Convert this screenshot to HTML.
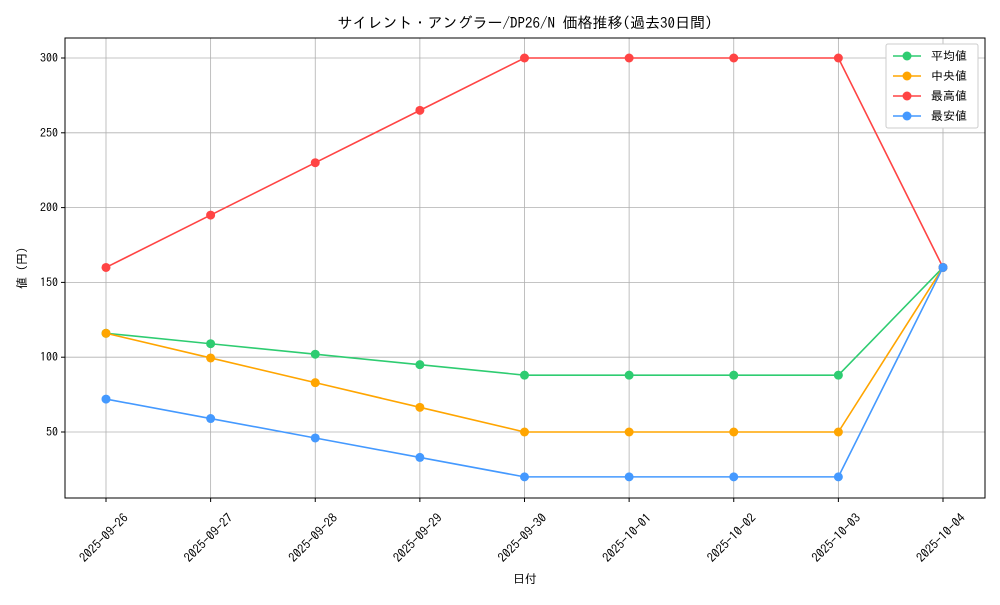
<!DOCTYPE html>
<html><head><meta charset="utf-8"><style>
body{margin:0;background:#fff}
svg text{font-family:"IPAGothic","Liberation Sans","Noto Sans CJK JP",sans-serif;fill:#000}
</style></head><body>
<svg id="chart" width="1000" height="600" xmlns="http://www.w3.org/2000/svg">
<rect width="1000" height="600" fill="#fff"/>
<text x="525" y="28" font-size="15" text-anchor="middle">サイレント・アングラー/DP26/N 価格推移(過去30日間)</text>
<g id="grid"></g><g id="axes"></g><g id="series"></g>
<text x="525" y="583" font-size="12" text-anchor="middle">日付</text>
<text x="26" y="268" font-size="12" text-anchor="middle" transform="rotate(-90 26 268)">値 (円)</text>
<g id="legend"></g>
</svg>
<script>
const dates=["2025-09-26","2025-09-27","2025-09-28","2025-09-29","2025-09-30","2025-10-01","2025-10-02","2025-10-03","2025-10-04"];
const avgVals=[116,109,102,95,88,88,88,88,160];
const medVals=[116,99.5,83,66.5,50,50,50,50,160];
const maxVals=[160,195,230,265,300,300,300,300,160];
const minVals=[72,59,46,33,20,20,20,20,160];
const yTicks=[50,100,150,200,250,300];
const seriesNames=["平均値","中央値","最高値","最安値"];
const NS="http://www.w3.org/2000/svg";
const L=65,R=985,T=38,B=498;
const x=i=>106+i*(943-106)/(dates.length-1);
const y=v=>432-(v-50)*(374/250);
function mk(tag,attrs,parent){const e=document.createElementNS(NS,tag);for(const k in attrs)e.setAttribute(k,attrs[k]);parent.appendChild(e);return e;}
const grid=document.getElementById('grid'),axes=document.getElementById('axes'),ser=document.getElementById('series'),leg=document.getElementById('legend');
dates.forEach((d,i)=>{
 const g=mk('line',{x1:x(i),x2:x(i),y1:T,y2:B,stroke:'#b0b0b0','stroke-width':0.8},grid);
 
 
 mk('line',{x1:x(i),x2:x(i),y1:B,y2:B+4,stroke:'#000'},axes);
 const cx=x(i)-2,cy=542;
 const t=mk('text',{x:cx,y:cy,'font-size':12.5,'text-anchor':'middle',transform:`rotate(-45 ${cx} ${cy-4})`},axes);
 t.textContent=d;
 
 
});
yTicks.forEach(v=>{
 const g=mk('line',{x1:L,x2:R,y1:y(v),y2:y(v),stroke:'#b0b0b0','stroke-width':0.8},grid);
 
 
 mk('line',{x1:L-4,x2:L,y1:y(v),y2:y(v),stroke:'#000'},axes);
 const t=mk('text',{x:L-7,y:y(v)+4,'font-size':12,'text-anchor':'end'},axes);
 t.textContent=v;
 
 
});
const frame=mk('rect',{x:L,y:T,width:R-L,height:B-T,fill:'none',stroke:'#000','stroke-width':1},axes);


const all=[avgVals,medVals,maxVals,minVals];
const colors=["#2ecc71","#ffa500","#ff4444","#4499ff"];
const keys=["avg","median","max","min"];
all.forEach((vals,s)=>{
 const p=mk('polyline',{points:vals.map((v,i)=>x(i)+','+y(v)).join(' '),fill:'none',stroke:colors[s],'stroke-width':1.6},ser);
 
 
 vals.forEach((v,i)=>{
  const c=mk('circle',{cx:x(i),cy:y(v),r:4.5,fill:colors[s]},ser);
  
  
 });
});
const lb=mk('rect',{x:886,y:44,width:92,height:84,fill:'#fff',stroke:'#ccc',rx:2},leg);


seriesNames.forEach((n,s)=>{
 const yy=56+s*20;
 mk('line',{x1:893,x2:921,y1:yy,y2:yy,stroke:colors[s],'stroke-width':1.6},leg);
 mk('circle',{cx:907,cy:yy,r:4.5,fill:colors[s]},leg);
 const t=mk('text',{x:931,y:yy+4,'font-size':12},leg);
 t.textContent=n;
 
 
});
</script>
</body></html>
